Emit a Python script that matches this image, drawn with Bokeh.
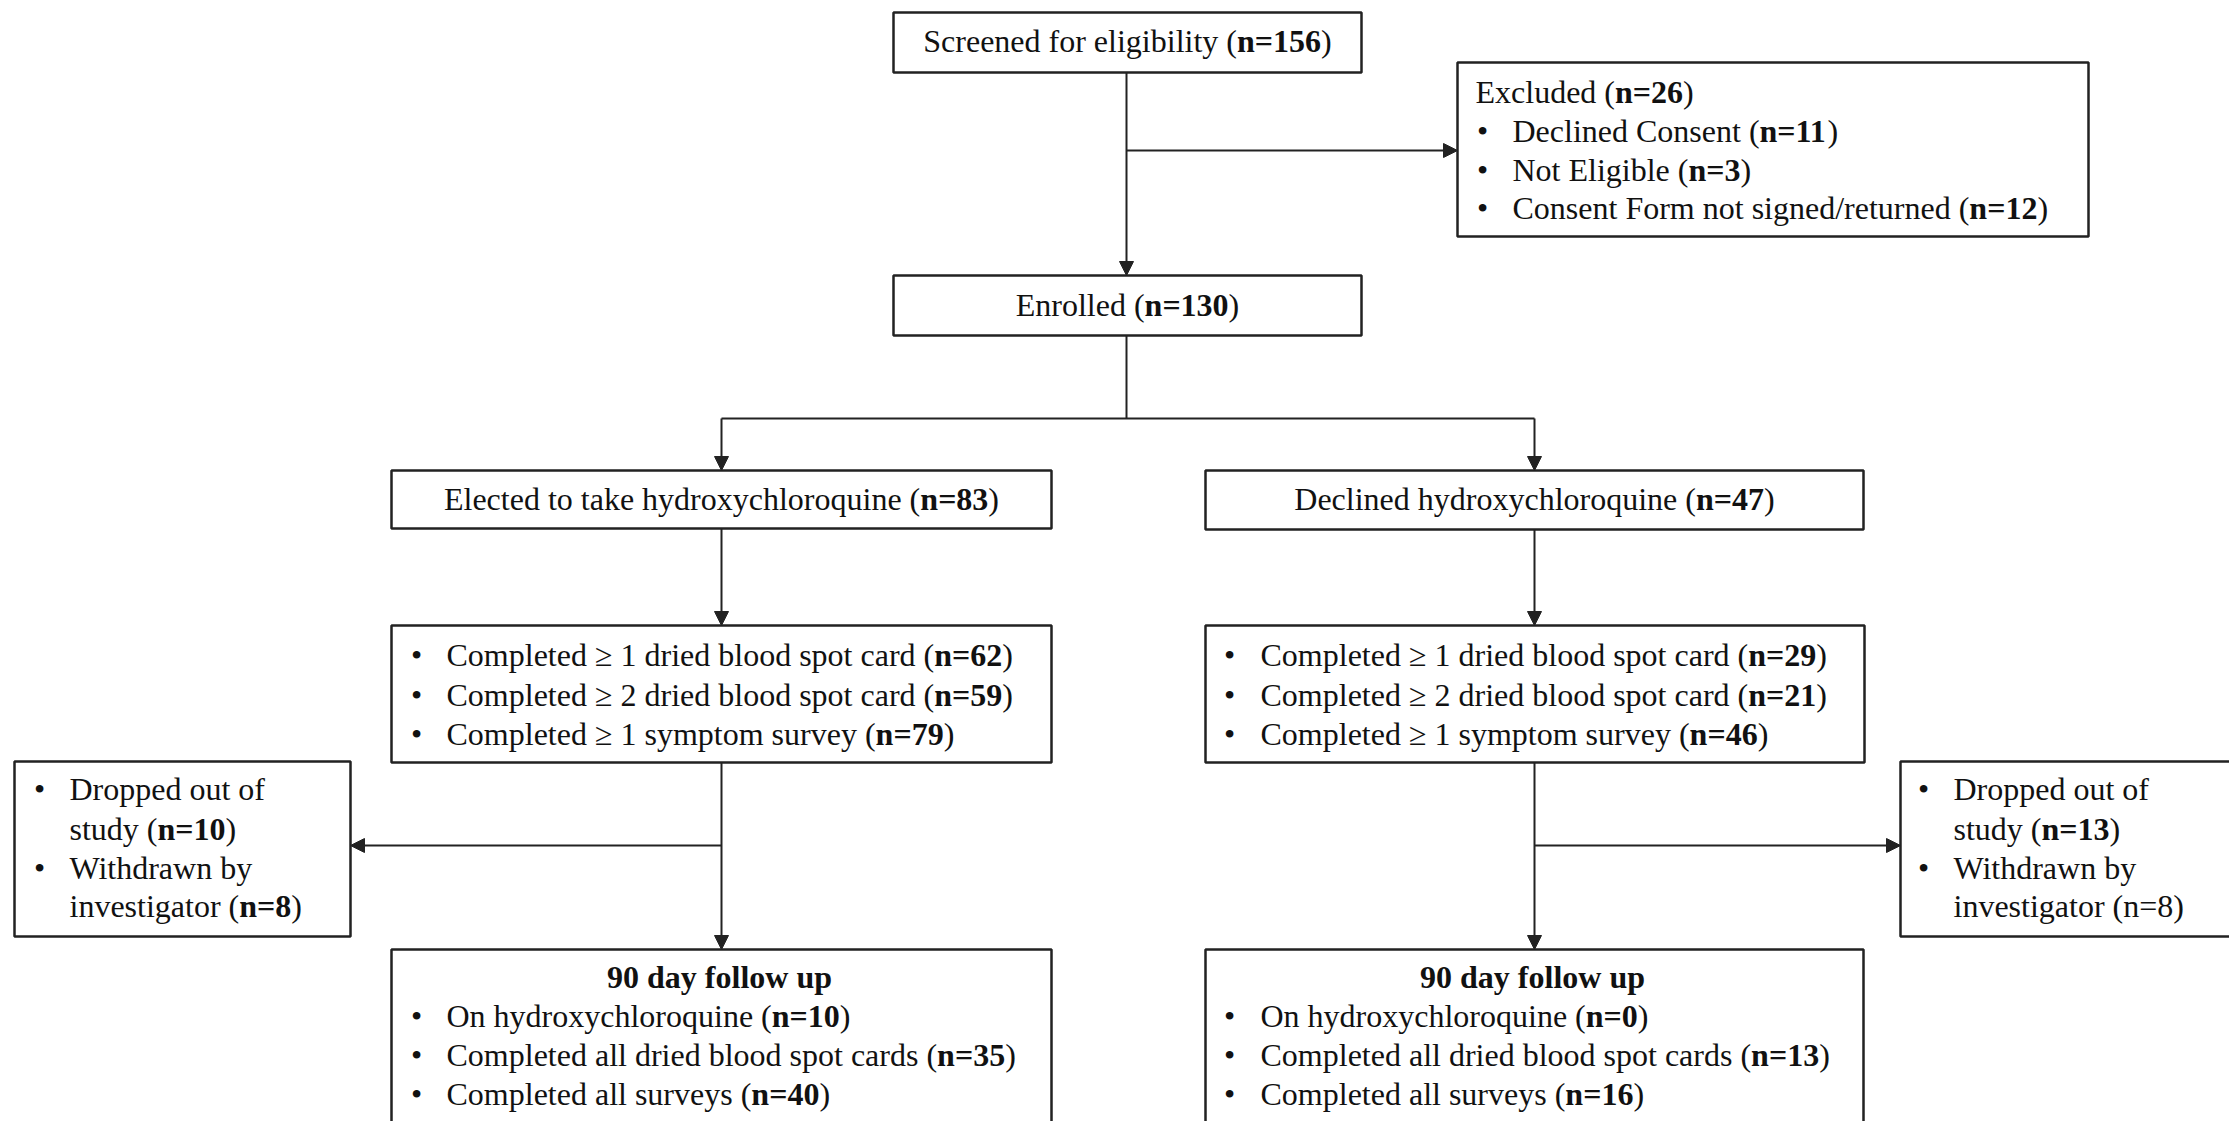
from bokeh.plotting import figure
from bokeh.models import Range1d, Arrow, NormalHead, ColumnDataSource
from bokeh.core.properties import value
from bokeh.embed import file_html
from bokeh.resources import INLINE

# ---------------- data ----------------
screened_n = 156
excluded_n = 26
excluded_reasons = ["Declined Consent", "Not Eligible", "Consent Form not signed/returned"]
excluded_counts = [11, 3, 12]
enrolled_n = 130
arm_labels = ["Elected to take hydroxychloroquine", "Declined hydroxychloroquine"]
arm_n = [83, 47]
dbs_ge1 = [62, 29]
dbs_ge2 = [59, 21]
survey_ge1 = [79, 46]
dropped_n = [10, 13]
withdrawn_n = [8, 8]
fu_title = "90 day follow up"
fu_on_hcq = [10, 0]
fu_all_dbs = [35, 13]
fu_all_surveys = [40, 16]

# ---------------- font metrics (Times / Liberation Serif, 1/1000 em) ----------------
REG = {' ': 250, '(': 333, ')': 333, '/': 278, '=': 564, '\u2265': 549, '\u2022': 350,
       'a': 444, 'b': 500, 'c': 444, 'd': 500, 'e': 444, 'f': 333, 'g': 500, 'h': 500,
       'i': 278, 'j': 278, 'k': 500, 'l': 278, 'm': 778, 'n': 500, 'o': 500, 'p': 500,
       'q': 500, 'r': 333, 's': 389, 't': 278, 'u': 500, 'v': 500, 'w': 722, 'x': 500,
       'y': 500, 'z': 444, 'C': 667, 'D': 722, 'E': 611, 'F': 556, 'N': 722, 'O': 722,
       'S': 556, 'W': 944}
for d in "0123456789":
    REG[d] = 500
BOLD = {' ': 250, 'n': 556, '=': 570, 'a': 500, 'y': 500, 'f': 333, 'o': 500, 'l': 278,
        'w': 722, 'u': 556, 'p': 556, 'd': 556}
for d in "0123456789":
    BOLD[d] = 500

FS = 32
FONT = "Liberation Serif"
TXT = "#111111"
LINE = "#222222"
W, H = 2229, 1121
BASE_OFF = -0.5   # offset from visual line centre to the y given to the text glyph


def tw(s, bold=False):
    t = BOLD if bold else REG
    return sum(t.get(c, 500) for c in s) * FS / 1000.0


def nlab(prefix, n, bold=True):
    return [(prefix + " (", False), ("n=%d" % n, bold), (")", False)]


norm = dict(x=[], y=[], text=[])
bold = dict(x=[], y=[], text=[])
bullets = dict(x=[], y=[], text=[])


def add_line(pieces, x, y, align="left"):
    total = sum(tw(s, b) for s, b in pieces)
    cx = x - total / 2.0 if align == "center" else x
    base = y + BASE_OFF
    for s, b in pieces:
        tgt = bold if b else norm
        tgt["x"].append(cx)
        tgt["y"].append(base)
        tgt["text"].append(s)
        cx += tw(s, b)


def add_bullet(x, y):
    bullets["x"].append(x)
    bullets["y"].append(y + BASE_OFF)
    bullets["text"].append("\u2022")


p = figure(width=W, height=H, x_range=Range1d(0, W), y_range=Range1d(H, 0),
           output_backend="svg", toolbar_location=None, min_border=0,
           x_axis_location=None, y_axis_location=None)
p.grid.visible = False
p.outline_line_color = None
p.background_fill_color = "white"
p.border_fill_color = "white"

# ---------------- boxes ----------------
boxes = [
    (893, 1361, 12, 72),      # screened
    (1457, 2088, 62, 236),    # excluded
    (893, 1361, 275, 335),    # enrolled
    (391, 1051, 470, 528),    # elected
    (1205, 1863, 470, 529),   # declined
    (391, 1051, 625, 762),    # completed L
    (1205, 1864, 625, 762),   # completed R
    (14, 350, 761, 936),      # dropped L
    (1900, 2260, 761, 936),   # dropped R
    (391, 1051, 949, 1150),   # follow-up L
    (1205, 1863, 949, 1150),  # follow-up R
]
p.quad(left=[b[0] for b in boxes], right=[b[1] for b in boxes],
       top=[b[2] for b in boxes], bottom=[b[3] for b in boxes],
       fill_color="white", line_color=LINE, line_width=2.5)

# ---------------- connectors ----------------
p.segment(x0=[1126, 721], y0=[335, 418], x1=[1126, 1534], y1=[418, 418],
          line_color=LINE, line_width=2)

arrows = [
    (1126, 72, 1126, 275),
    (1126, 150, 1457, 150),
    (721, 418, 721, 470),
    (1534, 418, 1534, 470),
    (721, 528, 721, 625),
    (1534, 529, 1534, 625),
    (721, 762, 721, 949),
    (1534, 762, 1534, 949),
    (721, 845, 350, 845),
    (1534, 845, 1900, 845),
]
for xs, ys, xe, ye in arrows:
    p.add_layout(Arrow(end=NormalHead(size=14, fill_color=LINE, line_color=LINE, line_width=1),
                       x_start=xs, y_start=ys, x_end=xe, y_end=ye,
                       line_color=LINE, line_width=2))

# ---------------- texts ----------------
add_line(nlab("Screened for eligibility", screened_n), 1127, 41, "center")
add_line(nlab("Excluded", excluded_n), 1475, 92)
for i, (lab, n) in enumerate(zip(excluded_reasons, excluded_counts)):
    y = [131, 170, 208][i]
    add_bullet(1482, y)
    add_line(nlab(lab, n), 1512, y)
add_line(nlab("Enrolled", enrolled_n), 1127, 305, "center")

col_cx = [721, 1534]
bul_x = [416, 1229]
txt_x = [446, 1260]
for k in range(2):
    add_line(nlab(arm_labels[k], arm_n[k]), col_cx[k], 499, "center")
    rows = [("Completed \u2265 1 dried blood spot card", dbs_ge1[k]),
            ("Completed \u2265 2 dried blood spot card", dbs_ge2[k]),
            ("Completed \u2265 1 symptom survey", survey_ge1[k])]
    for (lab, n), y in zip(rows, [655, 695, 734]):
        add_bullet(bul_x[k], y)
        add_line(nlab(lab, n), txt_x[k], y)
    # follow-up
    add_line([(fu_title, True)], col_cx[k] - 2, 977, "center")
    rows = [("On hydroxychloroquine", fu_on_hcq[k]),
            ("Completed all dried blood spot cards", fu_all_dbs[k]),
            ("Completed all surveys", fu_all_surveys[k])]
    for (lab, n), y in zip(rows, [1016, 1055, 1094]):
        add_bullet(bul_x[k], y)
        add_line(nlab(lab, n), txt_x[k], y)

drop_bx = [39, 1923]
drop_tx = [69, 1953]
for k in range(2):
    add_bullet(drop_bx[k], 789)
    add_line([("Dropped out of", False)], drop_tx[k], 789)
    add_line(nlab("study", dropped_n[k]), drop_tx[k], 829)
    add_bullet(drop_bx[k], 868)
    add_line([("Withdrawn by", False)], drop_tx[k], 868)
    add_line(nlab("investigator", withdrawn_n[k], bold=(k == 0)), drop_tx[k], 906)

common = dict(text_font=value(FONT), text_font_size="%dpx" % FS, text_color=TXT,
              text_baseline="alphabetic")
p.text(x="x", y="y", text="text", source=ColumnDataSource(norm), text_align="left", **common)
p.text(x="x", y="y", text="text", source=ColumnDataSource(bold), text_align="left",
       text_font_style="bold", **common)
p.text(x="x", y="y", text="text", source=ColumnDataSource(bullets), text_align="center", **common)

open("out.html", "w").write(file_html(p, INLINE))
